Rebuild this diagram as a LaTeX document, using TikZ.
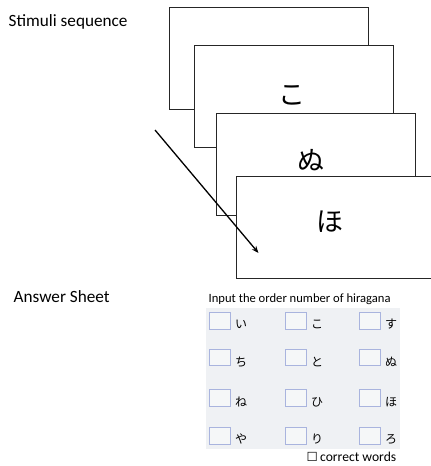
\documentclass[tikz,border=0pt]{standalone}
\usepackage{fontspec}
\setmainfont{Carlito}
\newfontfamily\jp{Noto Sans CJK JP}
\newfontfamily\dv{DejaVu Sans}
\usetikzlibrary{arrows.meta}
\definecolor{panelgray}{HTML}{EFF1F4}
\definecolor{boxblue}{HTML}{A9B4DE}
\tikzset{
  x=1pt, y=-1pt,
  card/.style={draw=black!85, line width=0.8pt, fill=white, anchor=north west, minimum width=199pt, minimum height=102pt, inner sep=0pt},
  cardchar/.style={font=\jp\fontsize{27}{29}\selectfont, inner sep=0pt},
  lbl/.style={font=\fontsize{17.2}{19}\selectfont, inner sep=0pt, anchor=west},
  ansbox/.style={draw=boxblue, line width=0.7pt, fill=panelgray!60!white, minimum width=21pt, minimum height=16.5pt, inner sep=0pt, anchor=north west},
  anschar/.style={font=\jp\fontsize{12}{13}\selectfont, inner sep=0pt},
  smalltext/.style={font=\fontsize{13.6}{15}\selectfont, inner sep=0pt, anchor=west},
}
\begin{document}
\begin{tikzpicture}
\useasboundingbox (0,0) rectangle (431,466);
% labels
\node[lbl] (stim) at (8.5,22) {Stimuli sequence};
\node[lbl] (ans) at (13.5,297) {Answer Sheet};
% cards
\node[card] (c1) at (169,7) {};
\node[card] (c2) at (194,45) {};
\node[cardchar] (k1) at (292,95) {こ};
\node[card] (c3) at (215.5,113) {};
\node[cardchar] (k2) at (311,160) {ぬ};
\node[card, minimum width=195pt] (c4) at (235.5,176) {};
\node[cardchar] (k3) at (330,222) {ほ};
% arrow
\coordinate (a0) at (155,130);
\coordinate (a1) at (258.5,253);
\draw[line width=1.3pt, -{Stealth[length=7pt,width=5.5pt]}] (a0) -- (a1);
% answer sheet
\node[smalltext, font=\fontsize{12.6}{14}\selectfont] (title) at (208.5,299.5) {Input the order number of hiragana};
\fill[panelgray] (206,308) rectangle (400,449);
\foreach \r/\yy in {1/312,2/348.5,3/389,4/427}{
  \foreach \c/\xx in {1/209,2/285,3/359}{
    \node[ansbox] (b\r\c) at (\xx,\yy) {};
  }
}
\node[anschar] (h11) at (241,324.5) {い};
\node[anschar] (h12) at (317,324.5) {こ};
\node[anschar] (h13) at (391,324.5) {す};
\node[anschar] (h21) at (241,362) {ち};
\node[anschar] (h22) at (317,362) {と};
\node[anschar] (h23) at (391,362) {ぬ};
\node[anschar] (h31) at (241,402) {ね};
\node[anschar] (h32) at (317,402) {ひ};
\node[anschar] (h33) at (391,402) {ほ};
\node[anschar] (h41) at (241,439) {や};
\node[anschar] (h42) at (317,439) {り};
\node[anschar] (h43) at (391,439) {ろ};
\node[smalltext] (cw) at (306.5,456.5) {{\dv\fontsize{12.5}{13}\selectfont ☐}\,correct words};
\end{tikzpicture}
\end{document}
